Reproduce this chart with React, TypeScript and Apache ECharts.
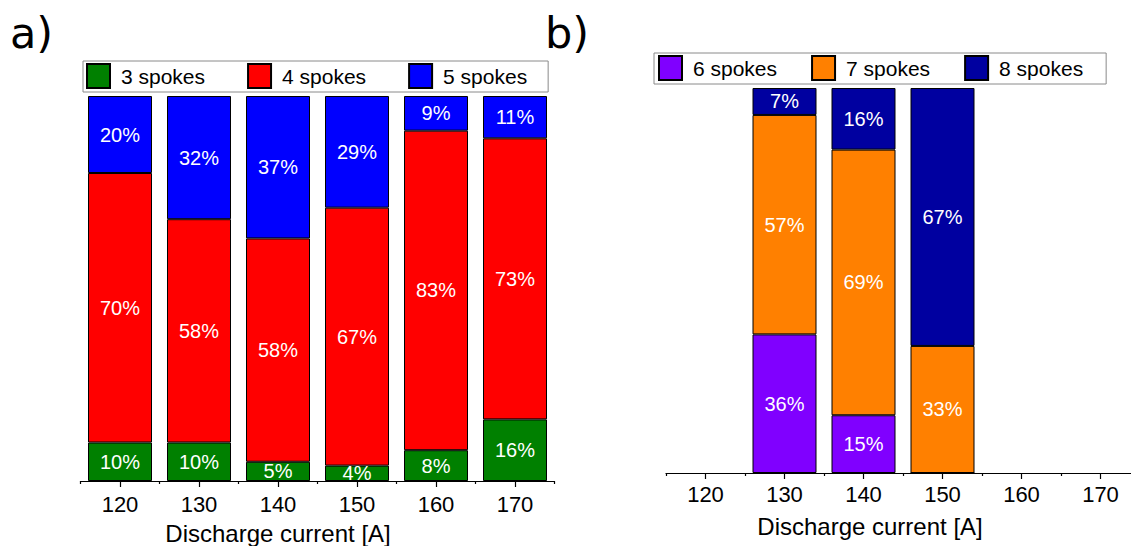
import React, { useEffect, useRef } from "react";
import * as echarts from "echarts";

const categories = ["120", "130", "140", "150", "160", "170"];
const threeSpokes = [10, 10, 5, 4, 8, 16];
const fourSpokes = [70, 58, 58, 67, 83, 73];
const fiveSpokes = [20, 32, 37, 29, 9, 11];
const sixSpokes: (number | string)[] = ["-", 36, 15, 0, "-", "-"];
const sevenSpokes: (number | string)[] = ["-", 57, 69, 33, "-", "-"];
const eightSpokes: (number | string)[] = ["-", 7, 16, 67, "-", "-"];

const legendA = ["3 spokes", "4 spokes", "5 spokes"];
const legendB = ["6 spokes", "7 spokes", "8 spokes"];

const FONT = "Liberation Sans, Arial, sans-serif";

export default function App() {
  const ref = useRef<HTMLDivElement>(null);
  useEffect(() => {
    if (!ref.current) return;
    const chart = echarts.init(ref.current, null, { renderer: "svg" });

    const barLabel = {
      show: true,
      position: "inside",
      color: "#fff",
      fontSize: 20,
      fontFamily: FONT,
      formatter: (p: any) => (p.value === 0 || p.value === "-" ? "" : p.value + "%"),
    };
    const mkBar = (name: string, data: any[], color: string, axis: number, stack: string) => ({
      name,
      type: "bar",
      stack,
      xAxisIndex: axis,
      yAxisIndex: axis === 0 ? 0 : 1,
      data,
      barWidth: 64,
      itemStyle: { color, borderColor: "#000", borderWidth: 1 },
      label: barLabel,
      emphasis: { disabled: true },
    });

    const mainX = (grid: number, margin: number) => ({
      type: "category",
      gridIndex: grid,
      data: categories,
      position: "bottom",
      axisLine: { show: true, lineStyle: { color: "#000", width: 1.2 } },
      axisTick: { show: true, alignWithLabel: true, length: 6, lineStyle: { color: "#000", width: 1.2 } },
      axisLabel: { color: "#000", fontSize: 22, fontFamily: FONT, margin },
    });
    const minorX = (grid: number) => ({
      type: "category",
      gridIndex: grid,
      data: categories,
      position: "bottom",
      axisLine: { show: false },
      axisTick: { show: true, length: 3, lineStyle: { color: "#000", width: 1.2 } },
      axisLabel: { show: false },
    });

    const legendBase = {
      orient: "horizontal",
      icon: "rect",
      itemWidth: 23,
      itemHeight: 24,
      borderColor: "#8a8a8a",
      borderWidth: 1,
      backgroundColor: "#fff",
      textStyle: { color: "#000", fontSize: 21, fontFamily: FONT, padding: [0, 0, 0, 6] },
      selectedMode: false,
    };

    chart.setOption({
      animation: false,
      grid: [
        { left: 80.5, top: 96, width: 474, height: 385 },
        { left: 666, top: 88, width: 474, height: 385 },
      ],
      xAxis: [mainX(0, 12), minorX(0), mainX(1, 10), minorX(1)],
      yAxis: [
        { type: "value", gridIndex: 0, min: 0, max: 100, show: false },
        { type: "value", gridIndex: 1, min: 0, max: 100, show: false },
      ],
      legend: [
        { ...legendBase, data: legendA, left: 83, top: 61, itemGap: 42, padding: [2, 21, 3, 3] },
        { ...legendBase, data: legendB, left: 654, top: 53, itemGap: 34, padding: [2, 23, 3, 4] },
      ],
      graphic: [
        { type: "text", left: 10, top: 11, style: { text: "a)", fontSize: 43, fontFamily: "DejaVu Sans", fill: "#000" } },
        { type: "text", left: 545, top: 11, style: { text: "b)", fontSize: 43, fontFamily: "DejaVu Sans", fill: "#000" } },
        {
          type: "text",
          x: 278,
          y: 533,
          style: { text: "Discharge current [A]", fontSize: 24, fontFamily: FONT, fill: "#000", align: "center", verticalAlign: "middle" },
        },
        {
          type: "text",
          x: 870,
          y: 526,
          style: { text: "Discharge current [A]", fontSize: 24, fontFamily: FONT, fill: "#000", align: "center", verticalAlign: "middle" },
        },
      ],
      series: [
        mkBar("3 spokes", threeSpokes, "#008000", 0, "a"),
        mkBar("4 spokes", fourSpokes, "#ff0000", 0, "a"),
        mkBar("5 spokes", fiveSpokes, "#0000ff", 0, "a"),
        mkBar("6 spokes", sixSpokes, "#8000ff", 2, "b"),
        mkBar("7 spokes", sevenSpokes, "#ff8000", 2, "b"),
        mkBar("8 spokes", eightSpokes, "#0000a0", 2, "b"),
      ],
    });
    return () => chart.dispose();
  }, []);
  return (
    <div style={{ position: "absolute", left: 0, top: 0, width: 1131, height: 546, overflow: "hidden" }}>
      <div ref={ref} style={{ width: 1150, height: 546 }} />
    </div>
  );
}
